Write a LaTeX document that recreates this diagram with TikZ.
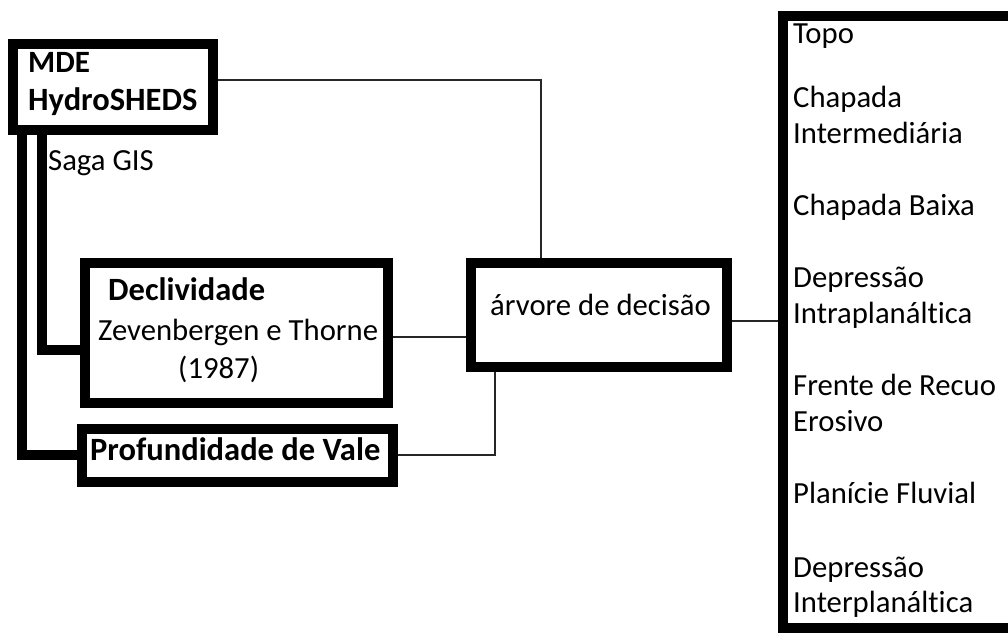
\documentclass[tikz,border=0pt]{standalone}
\usepackage{fontspec}
\setmainfont{Carlito}[Ligatures=NoCommon]
\begin{document}
\begin{tikzpicture}[x=1pt,y=-1pt,
  box/.style={draw=black,line width=10pt,inner sep=0pt,fill=white,rectangle},
  bar/.style={draw=black,line width=10pt,line join=miter,line cap=butt},
  link/.style={draw=black!85,line width=1.7pt},
  txt/.style={anchor=base west,inner sep=0pt,font=\fontsize{30.7}{36}\selectfont},
  btxt/.style={txt,font=\fontsize{32.5}{36}\selectfont\bfseries}]
\useasboundingbox (0,0) rectangle (1008,632);
\clip (0,0) rectangle (1008,632);
\fill[white] (0,0) rectangle (1008,632);
% coordinates for connectors
\coordinate (c1) at (541,80);
\coordinate (c2) at (0,337);
\coordinate (c3) at (495,455);
\coordinate (c4) at (0,321);
\coordinate (b1) at (42,350);
\coordinate (b2) at (22,455);
% boxes
\node[box,minimum width=199.5pt,minimum height=86.5pt] (mde) at (112.75,86.75) {};
\node[box,minimum width=303.5pt,minimum height=140pt] (decl) at (236.25,332.5) {};
\node[box,minimum width=310.5pt,minimum height=52.5pt] (prof) at (237.25,455.25) {};
\node[box,minimum width=256pt,minimum height=104pt] (arv) at (599,315) {};
\node[box,minimum width=247pt,minimum height=612pt] (cls) at (906.5,322) {};
% thick bars
\draw[bar] (b1 |- mde.center) -- (b1) -- (decl.west |- b1);
\draw[bar] (b2 |- mde.center) -- (b2) -- (prof.west |- b2);
\node[box,minimum width=199.5pt,minimum height=86.5pt] at (mde) {};
% thin connectors
\draw[link] (mde.east |- c1) -- (c1) -- (c1 |- arv.north);
\draw[link] (decl.east |- c2) -- (arv.west |- c2);
\draw[link] (prof.east |- c3) -- (c3) -- (c3 |- arv.south);
\draw[link] (arv.east |- c4) -- (cls.west |- c4);
% texts
\node[btxt,font=\fontsize{31}{36}\selectfont\bfseries] (t1) at (28,72) {MDE};
\node[btxt] (t2) at (28,110) {HydroSHEDS};
\node[txt] (t3) at (48,170) {Saga GIS};
\node[btxt] (t4) at (108,300) {Declividade};
\node[txt] (t5) at (98,340) {Zevenbergen e Thorne};
\node[txt] (t6) at (178,378) {(1987)};
\node[btxt] (t7) at (90,460) {Profundidade de Vale};
\node[txt] (t8) at (490,315) {árvore de decisão};
\node[txt] (r1) at (793,43) {Topo};
\node[txt] (r2) at (793,107) {Chapada};
\node[txt] (r3) at (793,143) {Intermediária};
\node[txt] (r4) at (793,215) {Chapada Baixa};
\node[txt] (r5) at (793,287) {Depressão};
\node[txt] (r6) at (793,323) {Intraplanáltica};
\node[txt] (r7) at (793,395) {Frente de Recuo};
\node[txt] (r8) at (793,431) {Erosivo};
\node[txt] (r9) at (793,503) {Planície Fluvial};
\node[txt] (r10) at (793,577) {Depressão};
\node[txt] (r11) at (793,612) {Interplanáltica};
\end{tikzpicture}
\end{document}
